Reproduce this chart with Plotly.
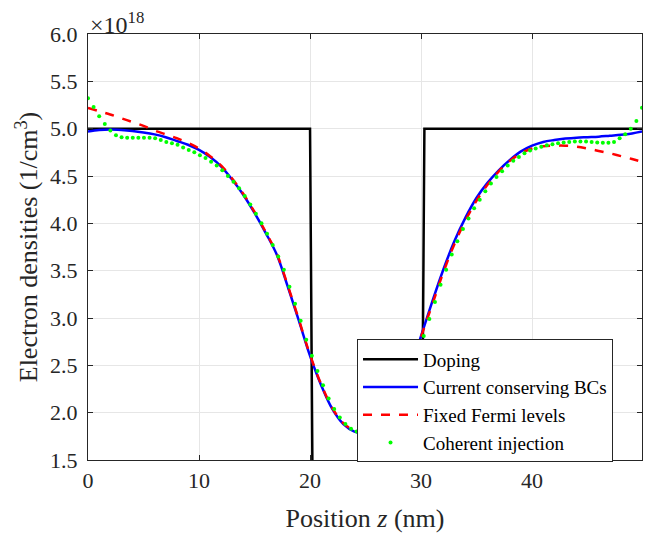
import numpy as np
import plotly.graph_objects as go

# Doping profile (x1e18 cm^-3)
doping_z = [0, 20.0, 20.3, 30.0, 30.3, 49.9]
doping_n = [5.0, 5.0, 0.0, 0.0, 5.0, 5.0]

# Line series sampled every 1 nm (last point at 49.9)
line_z = list(range(0, 50)) + [49.9]
current_bc = [4.97, 4.985, 4.99, 4.985, 4.975, 4.96, 4.94, 4.91, 4.87, 4.83,
              4.775, 4.70, 4.60, 4.46, 4.30, 4.11, 3.90, 3.67, 3.33, 2.97,
              2.60, 2.29, 2.04, 1.88, 1.80, 1.775, 1.81, 1.93, 2.13, 2.43,
              2.81, 3.17, 3.51, 3.81, 4.06, 4.27, 4.43, 4.56, 4.67, 4.76,
              4.82, 4.86, 4.88, 4.895, 4.905, 4.91, 4.915, 4.925, 4.935, 4.95,
              4.97]
fixed_fermi = [5.22, 5.185, 5.15, 5.11, 5.07, 5.03, 4.98, 4.94, 4.90, 4.85,
               4.79, 4.71, 4.61, 4.47, 4.31, 4.12, 3.91, 3.68, 3.34, 2.98,
               2.61, 2.30, 2.05, 1.89, 1.81, 1.78, 1.81, 1.93, 2.13, 2.42,
               2.80, 3.14, 3.48, 3.78, 4.03, 4.24, 4.41, 4.55, 4.66, 4.74,
               4.79, 4.815, 4.82, 4.82, 4.81, 4.79, 4.765, 4.74, 4.71, 4.68,
               4.65]

# Coherent injection, 100 samples across 0..49.9 nm
coherent = [5.32, 5.23, 5.13, 5.05, 4.98, 4.93, 4.91, 4.905, 4.905, 4.905,
            4.905, 4.905, 4.90, 4.88, 4.86, 4.845, 4.83, 4.80, 4.775, 4.75,
            4.72, 4.69, 4.65, 4.61, 4.56, 4.50, 4.44, 4.37, 4.29, 4.20,
            4.10, 4.00, 3.89, 3.77, 3.65, 3.51, 3.33, 3.15, 2.97, 2.77,
            2.60, 2.44, 2.29, 2.15, 2.04, 1.95, 1.88, 1.83, 1.80, 1.78,
            1.775, 1.78, 1.81, 1.86, 1.93, 2.02, 2.13, 2.27, 2.43, 2.61,
            2.81, 2.99, 3.17, 3.35, 3.51, 3.67, 3.81, 3.94, 4.05, 4.16,
            4.25, 4.34, 4.42, 4.49, 4.55, 4.61, 4.66, 4.70, 4.74, 4.77,
            4.79, 4.81, 4.825, 4.835, 4.845, 4.855, 4.86, 4.865, 4.865, 4.865,
            4.86, 4.855, 4.85, 4.85, 4.86, 4.90, 4.94, 5.00, 5.08, 5.22]
coherent_z = np.linspace(0, 49.9, len(coherent))

series_names = ["Doping", "Current conserving BCs", "Fixed Fermi levels", "Coherent injection"]
y_ticks = [1.5, 2.0, 2.5, 3.0, 3.5, 4.0, 4.5, 5.0, 5.5, 6.0]
x_ticks = [0, 10, 20, 30, 40]

FONT = "'Liberation Serif', 'Times New Roman', serif"
TXT = "#262626"

fig = go.Figure()
fig.add_trace(go.Scatter(x=doping_z, y=doping_n, mode="lines", name=series_names[0],
                         line=dict(color="black", width=2.5)))
fig.add_trace(go.Scatter(x=line_z, y=current_bc, mode="lines", name=series_names[1],
                         line=dict(color="#0000ff", width=2.5, shape="spline", smoothing=1.0)))
fig.add_trace(go.Scatter(x=line_z, y=fixed_fermi, mode="lines", name=series_names[2],
                         line=dict(color="#ff0000", width=2.5, dash="dash", shape="spline", smoothing=1.0)))
fig.add_trace(go.Scatter(x=coherent_z, y=coherent, mode="markers", name=series_names[3],
                         marker=dict(color="#00ff00", size=4)))

axis_common = dict(showline=True, linecolor=TXT, linewidth=1, mirror="ticks",
                   ticks="inside", ticklen=5, tickcolor=TXT, automargin=False,
                   showgrid=True, gridcolor="#e6e6e6", gridwidth=1, zeroline=False,
                   tickfont=dict(family=FONT, size=22, color=TXT))

fig.update_xaxes(range=[0, 49.9], tickvals=x_ticks, ticklabelstandoff=1,
                 title=dict(text="Position <i>z</i> (nm)", font=dict(family=FONT, size=26, color=TXT),
                            standoff=20),
                 **axis_common)
fig.update_yaxes(range=[1.5, 6.0], tickvals=y_ticks, tickformat=".1f", ticklabelstandoff=5,
                 title=dict(text="Electron densities (1/cm<sup>3</sup>)",
                            font=dict(family=FONT, size=26, color=TXT), standoff=4),
                 **axis_common)

fig.add_annotation(x=0, y=1.0, xref="paper", yref="paper", xanchor="left", yanchor="bottom",
                   text="×10<sup>18</sup>", showarrow=False, yshift=-6,
                   font=dict(family=FONT, size=24, color=TXT))

# page body has an 8px margin, so the figure is drawn offset by (8, 8)
fig.update_layout(
    width=647, height=525,
    margin=dict(l=80, r=13, t=26, b=73),
    paper_bgcolor="white", plot_bgcolor="white",
    legend=dict(x=0.4856, y=0.283, xanchor="left", yanchor="top",
                bgcolor="white", bordercolor=TXT, borderwidth=1,
                font=dict(family=FONT, size=19, color="black"),
                tracegroupgap=0, itemwidth=55),
    showlegend=True,
)

fig.write_html("out.html")
